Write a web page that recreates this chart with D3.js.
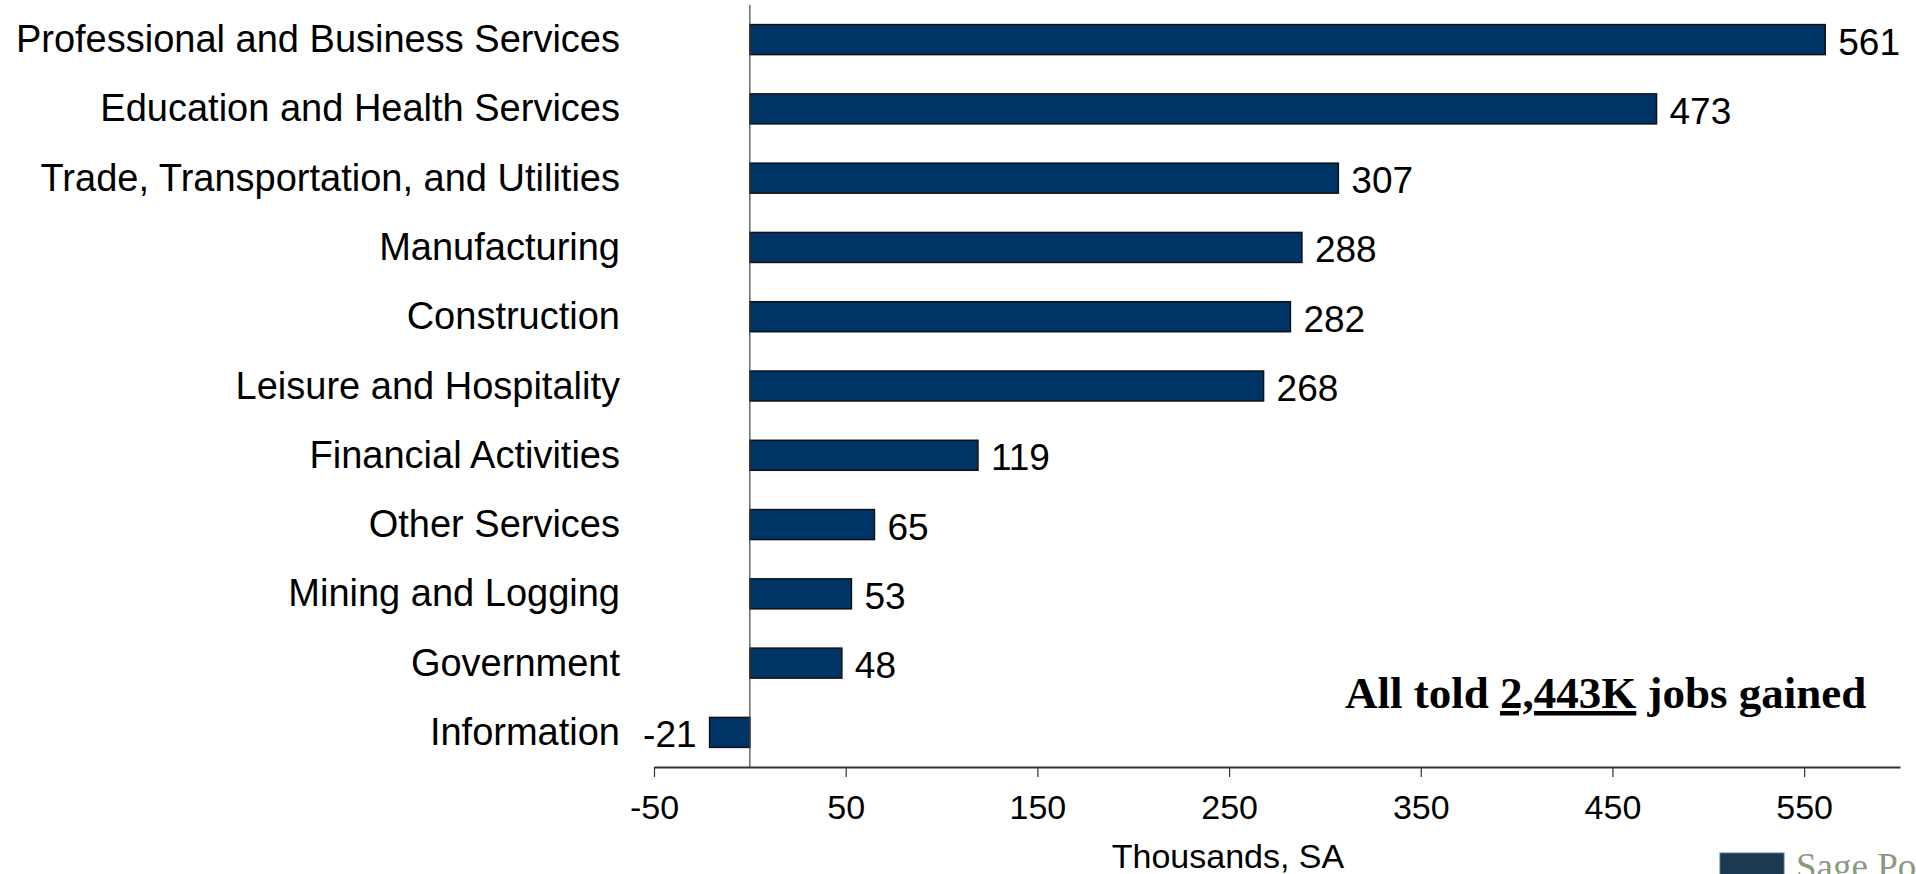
<!DOCTYPE html>
<html>
<head>
<meta charset="utf-8">
<script src="https://cdn.jsdelivr.net/npm/d3@7"></script>
<style>
  body { margin: 0; background: #fff; }
  svg { display: block; }
</style>
</head>
<body>
<div id="chart-area"></div>
<script>
// Data
var sectors = ["Professional and Business Services", "Education and Health Services",
    "Trade, Transportation, and Utilities", "Manufacturing", "Construction",
    "Leisure and Hospitality", "Financial Activities", "Other Services",
    "Mining and Logging", "Government", "Information"];
var jobs = [561, 473, 307, 288, 282, 268, 119, 65, 53, 48, -21];
var tickValues = [-50, 50, 150, 250, 350, 450, 550];
var xDomain = [-50, 600];

var width = 1916;
var height = 874;

var svg = d3.select("#chart-area")
    .append("svg")
    .attr("width", width)
    .attr("height", height);

// escalas
var x = d3.scaleLinear()
    .domain(xDomain)
    .range([654, 1900]);

var y = d3.scaleBand()
    .domain(sectors)
    .range([5, 767])
    .paddingInner(0.567)
    .paddingOuter(0.283);

var data = sectors.map((s, i) => { return {sector: s, value: jobs[i]}; });

// barras
svg.selectAll("rect.bar")
    .data(data)
    .enter().append("rect")
    .attr("class", "bar")
    .attr("x", (d) => { return x(Math.min(0, d.value)); })
    .attr("y", (d) => { return y(d.sector); })
    .attr("width", (d) => { return Math.abs(x(d.value) - x(0)); })
    .attr("height", y.bandwidth())
    .attr("fill", "#003366")
    .attr("stroke", "#111")
    .attr("stroke-width", 1.5);

// linea del cero
svg.append("line")
    .attr("x1", x(0)).attr("x2", x(0))
    .attr("y1", 5).attr("y2", 767)
    .attr("stroke", "#444")
    .attr("stroke-width", 1.2);

// etiquetas de valor
svg.selectAll("text.value")
    .data(data)
    .enter().append("text")
    .attr("class", "value")
    .attr("x", (d) => { return d.value < 0 ? x(d.value) - 13 : x(d.value) + 13; })
    .attr("y", (d) => { return y(d.sector) + y.bandwidth() / 2 + 15; })
    .attr("text-anchor", (d) => { return d.value < 0 ? "end" : "start"; })
    .attr("font-family", "'Liberation Sans', Arial, sans-serif")
    .attr("font-size", "37px")
    .attr("fill", "#000")
    .text((d) => { return d.value; });

// eje y (categorias)
var leftAxis = d3.axisLeft(y).tickSize(0).tickPadding(0);
var yAxis = svg.append("g")
    .attr("class", "left axis")
    .attr("transform", "translate(620,0)")
    .call(leftAxis);
yAxis.select(".domain").remove();
yAxis.selectAll("text")
    .attr("font-family", "'Liberation Sans', Arial, sans-serif")
    .attr("font-size", "38px")
    .attr("fill", "#000")
    .attr("dy", "0.33em");

// eje x
var bottomAxis = d3.axisBottom(x)
    .tickValues(tickValues)
    .tickFormat((d) => { return String(d); })
    .tickSize(10)
    .tickSizeOuter(0)
    .tickPadding(18);
var xAxis = svg.append("g")
    .attr("class", "bottom axis")
    .attr("transform", "translate(0,767)")
    .call(bottomAxis);
xAxis.select(".domain").attr("stroke", "#333").attr("stroke-width", 2);
xAxis.selectAll(".tick line").attr("stroke", "#333").attr("stroke-width", 1.2);
xAxis.selectAll("text")
    .attr("font-family", "'Liberation Sans', Arial, sans-serif")
    .attr("font-size", "34px")
    .attr("fill", "#000")
    .attr("dy", null)
    .attr("y", 52);

// titulo del eje x
svg.append("text")
    .attr("x", 1228)
    .attr("y", 868)
    .attr("text-anchor", "middle")
    .attr("font-family", "'Liberation Sans', Arial, sans-serif")
    .attr("font-size", "34px")
    .attr("fill", "#000")
    .text("Thousands, SA");

// anotacion
var note = svg.append("text")
    .attr("x", 1345)
    .attr("y", 708)
    .attr("font-family", "'Liberation Serif', 'Times New Roman', serif")
    .attr("font-weight", "bold")
    .attr("font-size", "45px")
    .attr("fill", "#000");
note.append("tspan").text("All told ");
note.append("tspan").attr("text-decoration", "underline").text("2,443K");
note.append("tspan").text(" jobs gained");

// logo (cortado abajo, como en el original)
svg.append("rect")
    .attr("x", 1720).attr("y", 853)
    .attr("width", 64).attr("height", 30)
    .attr("fill", "#1b3a52")
    .attr("stroke", "#5d7385")
    .attr("stroke-width", 1);
svg.append("text")
    .attr("x", 1796)
    .attr("y", 879)
    .attr("font-family", "'Liberation Serif', 'Times New Roman', serif")
    .attr("font-size", "37px")
    .attr("fill", "#8a9a80")
    .text("Sage Policy Group");
</script>
</body>
</html>
